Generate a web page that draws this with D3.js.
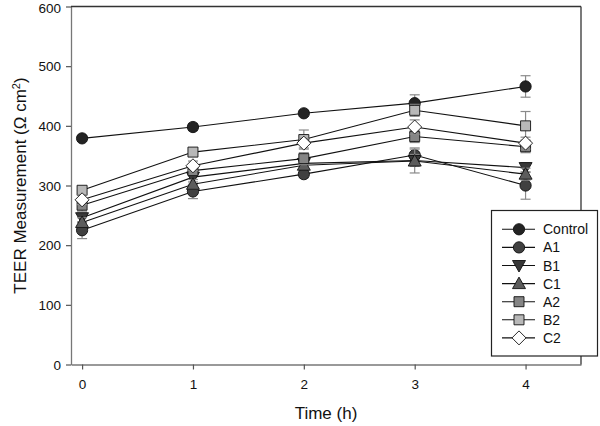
<!DOCTYPE html>
<html><head><meta charset="utf-8">
<script src="https://cdn.jsdelivr.net/npm/d3@7"></script>
<style>body{margin:0;background:#fff}svg{display:block}text{font-family:Arial,"Liberation Sans",sans-serif;fill:#111}</style>
</head><body>
<svg id="c" width="600" height="426"></svg>
<script>
const times = [0, 1, 2, 3, 4];
const xTicks = [0, 1, 2, 3, 4];
const yTicks = [0, 100, 200, 300, 400, 500, 600];
const seriesNames = ["Control", "A1", "B1", "C1", "A2", "B2", "C2"];
const controlVals = [379, 398, 421, 438, 466];
const controlErr  = [5, 6, 5, 14, 18];
const a1Vals = [225, 290, 319, 351, 300];
const a1Err  = [14, 12, 6, 12, 23];
const b1Vals = [246, 314, 337, 342, 330];
const b1Err  = [8, 8, 6, 10, 8];
const c1Vals = [238, 302, 334, 341, 319];
const c1Err  = [8, 8, 6, 20, 10];
const a2Vals = [267, 325, 345, 382, 365];
const a2Err  = [10, 8, 10, 10, 10];
const b2Vals = [292, 356, 377, 426, 400];
const b2Err  = [6, 6, 16, 10, 24];
const c2Vals = [276, 333, 371, 398, 371];
const c2Err  = [8, 8, 8, 12, 10];

const vals = [controlVals, a1Vals, b1Vals, c1Vals, a2Vals, b2Vals, c2Vals];
const errs = [controlErr, a1Err, b1Err, c1Err, a2Err, b2Err, c2Err];
const fills = ["#232323", "#404040", "#383838", "#5c5c5c", "#858585", "#b8b8b8", "#ffffff"];
const shapes = ["circle", "circle", "tridown", "triup", "square", "square", "diamond"];

const svg = d3.select("#c");
const L = 71, R = 581, T = 6.5, B = 364.5;
const x = d3.scaleLinear().domain([-0.1, 4.5]).range([L, R]);
const y = d3.scaleLinear().domain([0, 600]).range([B, T]);

function shapePath(s) {
  if (s === "circle") return d3.symbol(d3.symbolCircle, 100)();
  if (s === "square") return "M-5,-5H5V5H-5Z";
  if (s === "triup") return "M0,-6.5L6.5,5L-6.5,5Z";
  if (s === "tridown") return "M0,6.5L6.5,-5L-6.5,-5Z";
  if (s === "diamond") return "M0,-7L7,0L0,7L-7,0Z";
}

// axes
const gx = svg.append("g").attr("transform", `translate(0,${B})`)
  .call(d3.axisBottom(x).tickValues(xTicks).tickFormat(d3.format("d")).tickSize(5).tickSizeOuter(0).tickPadding(6));
const gy = svg.append("g").attr("transform", `translate(${L},0)`)
  .call(d3.axisLeft(y).tickValues(yTicks).tickSize(5).tickSizeOuter(0).tickPadding(5));
[gx, gy].forEach(g => {
  g.select(".domain").attr("stroke", "#777").attr("stroke-width", 1.3);
  g.selectAll(".tick line").attr("stroke", "#555").attr("stroke-width", 1.2);
  g.selectAll(".tick text").style("font-size", "13.5px").attr("fill", "#111");
});
gx.selectAll(".tick text").attr("dy", "1em");
gy.selectAll(".tick text").attr("dy", d => d === 600 ? "0.42em" : "0.34em");
// top and right frame
svg.append("line").attr("x1", L).attr("x2", R).attr("y1", T).attr("y2", T).attr("stroke", "#333").attr("stroke-width", 1.3);
svg.append("line").attr("x1", R).attr("x2", R).attr("y1", T).attr("y2", B).attr("stroke", "#333").attr("stroke-width", 1.3);

// axis titles
svg.append("text").attr("x", (L + R) / 2).attr("y", 419).attr("text-anchor", "middle").style("font-size", "17px").text("Time (h)");
const yl = svg.append("text").attr("transform", `translate(26,${(T + B) / 2}) rotate(-90)`).attr("text-anchor", "middle").style("font-size", "17px");
yl.append("tspan").text("TEER Measurement (\u03A9 cm");
yl.append("tspan").attr("dy", "-6").style("font-size", "11px").text("2");
yl.append("tspan").attr("dy", "6").text(")");

const line = d3.line().x((d, i) => x(times[i])).y(d => y(d));

seriesNames.forEach((name, si) => {
  const g = svg.append("g");
  // error bars
  times.forEach((t, i) => {
    const cx = x(t), v = vals[si][i], e = errs[si][i];
    g.append("line").attr("x1", cx).attr("x2", cx).attr("y1", y(v - e)).attr("y2", y(v + e)).attr("stroke", "#8a8a8a").attr("stroke-width", 1.2);
    [v - e, v + e].forEach(w => g.append("line").attr("x1", cx - 5).attr("x2", cx + 5).attr("y1", y(w)).attr("y2", y(w)).attr("stroke", "#8a8a8a").attr("stroke-width", 1.2));
  });
  g.append("path").attr("d", line(vals[si])).attr("fill", "none").attr("stroke", "#111").attr("stroke-width", 1.1);
  times.forEach((t, i) => {
    g.append("path").attr("d", shapePath(shapes[si])).attr("transform", `translate(${x(t)},${y(vals[si][i])})`)
      .attr("fill", fills[si]).attr("stroke", "#111").attr("stroke-width", 0.9);
  });
});

// legend
const lg = svg.append("g");
lg.append("rect").attr("x", 491.5).attr("y", 210.5).attr("width", 106).attr("height", 145.5).attr("fill", "#fff").attr("stroke", "#222").attr("stroke-width", 1.2);
seriesNames.forEach((name, i) => {
  const cy = 229.3 + i * 18.1;
  lg.append("line").attr("x1", 502).attr("x2", 535).attr("y1", cy).attr("y2", cy).attr("stroke", "#111").attr("stroke-width", 1.1);
  lg.append("path").attr("d", shapePath(shapes[i])).attr("transform", `translate(519,${cy})`).attr("fill", fills[i]).attr("stroke", "#111").attr("stroke-width", 0.9);
  lg.append("text").attr("x", 543).attr("y", cy).attr("dy", "0.36em").style("font-size", "14px").text(name);
});
</script>
</body></html>
